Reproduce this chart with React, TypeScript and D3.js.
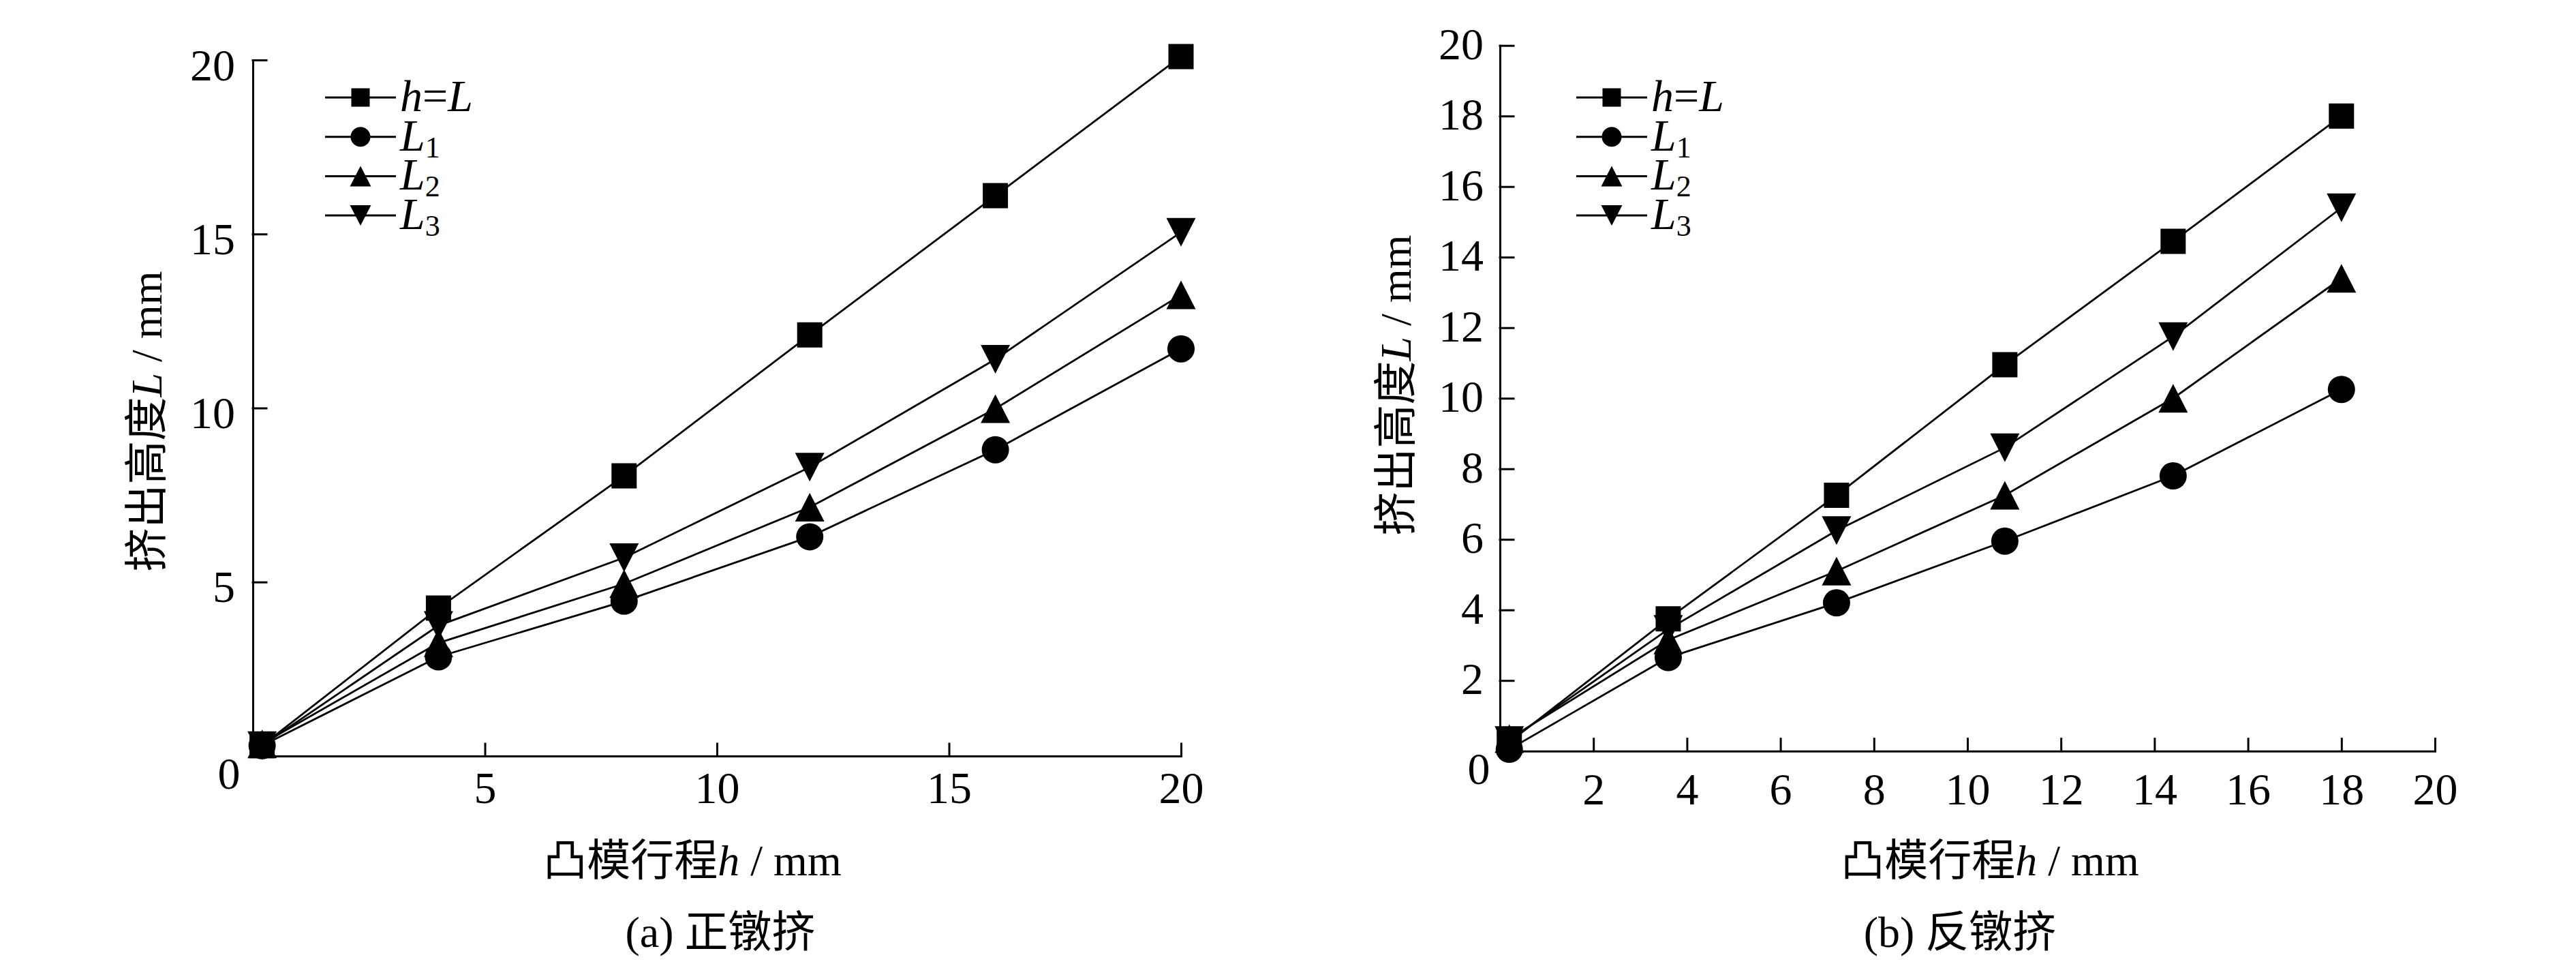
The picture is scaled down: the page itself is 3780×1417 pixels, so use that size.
import { useEffect, useRef } from "react";
import * as d3 from "d3";

const W = 3780;
const H = 1417;
const SERIF = "'Liberation Serif', 'Times New Roman', 'Noto Sans CJK SC', serif";

// ---------------------------------------------------------------------------
// Data — (a) 正镦挤
// ---------------------------------------------------------------------------
const strokeA = [0.2, 4, 8, 12, 16, 20];
const hEqLA = [0.3, 4.25, 8.05, 12.1, 16.1, 20.1];
const l1A = [0.3, 2.85, 4.45, 6.3, 8.8, 11.7];
const l2A = [0.35, 3.25, 4.95, 7.15, 9.98, 13.25];
const l3A = [0.3, 3.75, 5.7, 8.3, 11.4, 15.05];
const xTicksA = [5, 10, 15, 20];
const yTicksA = [5, 10, 15, 20];

// ---------------------------------------------------------------------------
// Data — (b) 反镦挤
// ---------------------------------------------------------------------------
const strokeB = [0.2, 3.6, 7.2, 10.8, 14.4, 18];
const hEqLB = [0.25, 3.75, 7.25, 10.95, 14.45, 18.0];
const l1B = [0.05, 2.65, 4.2, 5.95, 7.8, 10.25];
const l2B = [0.35, 3.15, 5.1, 7.25, 10.0, 13.4];
const l3B = [0.3, 3.45, 6.25, 8.6, 11.75, 15.4];
const xTicksB = [2, 4, 6, 8, 10, 12, 14, 16, 18, 20];
const yTicksB = [2, 4, 6, 8, 10, 12, 14, 16, 18, 20];

const seriesKeys = ["hL", "L1", "L2", "L3"];
const shapes = ["square", "circle", "up", "down"];

// ---------------------------------------------------------------------------
// Layout
// ---------------------------------------------------------------------------
const panels = [
  {
    xs: strokeA,
    series: [hEqLA, l1A, l2A, l3A],
    xRange: [371, 1733],
    yRange: [1109, 88],
    xTicks: xTicksA,
    yTicks: yTicksA,
    xLabelY: 69,
    yLabelX: -26,
    yLabelY: 29,
    zero: [336, 1157],
    yTitle: [237, 618],
    xTitle: [1016, 1284],
    caption: [1057, 1389],
    captionText: "(a) 正镦挤",
    legendX: 477,
  },
  {
    xs: strokeB,
    series: [hEqLB, l1B, l2B, l3B],
    xRange: [2201, 3573],
    yRange: [1101.7, 66.7],
    xTicks: xTicksB,
    yTicks: yTicksB,
    xLabelY: 78,
    yLabelX: -24,
    yLabelY: 19.5,
    zero: [2170, 1150],
    yTitle: [2070, 565],
    xTitle: [2920, 1284],
    caption: [2876, 1389],
    captionText: "(b) 反镦挤",
    legendX: 2313,
  },
];

function markerPath(kind: string, big: boolean) {
  const sq = big ? 37 : 27;
  const r = big ? 20 : 14.5;
  const tw = big ? 43 : 31;
  const th = big ? 42 : 30;
  switch (kind) {
    case "square":
      return `M${-sq / 2},${-sq / 2}h${sq}v${sq}h${-sq}Z`;
    case "circle":
      return `M${-r},0A${r},${r} 0 1 0 ${r},0A${r},${r} 0 1 0 ${-r},0Z`;
    case "up":
      return `M0,${-th / 2}L${tw / 2},${th / 2}L${-tw / 2},${th / 2}Z`;
    default:
      return `M0,${th / 2}L${tw / 2},${-th / 2}L${-tw / 2},${-th / 2}Z`;
  }
}

export default function App() {
  const svgRef = useRef<SVGSVGElement>(null);

  useEffect(() => {
    const svg = d3.select(svgRef.current);
    svg.selectAll("*").remove();
    svg.append("rect").attr("width", W).attr("height", H).attr("fill", "#fff");

    panels.forEach((p) => {
      const x = d3.scaleLinear().domain([0, 20]).range(p.xRange);
      const y = d3.scaleLinear().domain([0, 20]).range(p.yRange);
      const g = svg.append("g");

      // ---- axes ----
      const xAxis = g
        .append("g")
        .attr("transform", `translate(0,${y(0)})`)
        .call(
          d3
            .axisBottom(x)
            .tickValues(p.xTicks)
            .tickSize(-18)
            .tickSizeOuter(0)
            .tickFormat(d3.format("d"))
        );
      const yAxis = g
        .append("g")
        .attr("transform", `translate(${x(0)},0)`)
        .call(
          d3
            .axisLeft(y)
            .tickValues(p.yTicks)
            .tickSize(-20)
            .tickSizeOuter(0)
            .tickFormat(d3.format("d"))
        );

      [xAxis, yAxis].forEach((a) => {
        a.attr("font-family", SERIF).attr("font-size", 66);
        a.selectAll("path, line")
          .attr("stroke", "#000")
          .attr("stroke-width", 3)
          .attr("stroke-linecap", "square");
        a.selectAll("text").attr("fill", "#000").attr("dy", null);
      });
      xAxis.selectAll("text").attr("y", p.xLabelY);
      yAxis.selectAll("text").attr("x", p.yLabelX).attr("y", p.yLabelY);

      g.append("text")
        .attr("x", p.zero[0])
        .attr("y", p.zero[1])
        .attr("text-anchor", "middle")
        .attr("font-family", SERIF)
        .attr("font-size", 66)
        .text("0");

      // ---- series lines ----
      const line = d3
        .line<number>()
        .x((_d, i) => x(p.xs[i]))
        .y((d) => y(d));

      p.series.forEach((vals) => {
        g.append("path")
          .attr("d", line(vals))
          .attr("fill", "none")
          .attr("stroke", "#000")
          .attr("stroke-width", 2.8);
      });

      // ---- markers ----
      p.series.forEach((vals, si) => {
        g.selectAll(null)
          .data(vals)
          .join("path")
          .attr("transform", (d, i) => `translate(${x(p.xs[i])},${y(d)})`)
          .attr("d", markerPath(shapes[si], true))
          .attr("fill", "#000");
      });

      // ---- legend ----
      seriesKeys.forEach((key, i) => {
        const ry = 143 + i * 57.7;
        const row = g.append("g").attr("transform", `translate(${p.legendX},${ry})`);
        row.append("line")
          .attr("x1", 0)
          .attr("x2", 104)
          .attr("stroke", "#000")
          .attr("stroke-width", 3);
        row.append("path")
          .attr("transform", "translate(52,0)")
          .attr("d", markerPath(shapes[i], false))
          .attr("fill", "#000");
        const t = row
          .append("text")
          .attr("x", 110)
          .attr("y", 20)
          .attr("font-family", SERIF)
          .attr("font-size", 66);
        if (key === "hL") {
          t.append("tspan").attr("font-style", "italic").text("h");
          t.append("tspan").text("=");
          t.append("tspan").attr("font-style", "italic").text("L");
        } else {
          t.append("tspan").attr("font-style", "italic").text("L");
          t.append("tspan").attr("font-size", 44).attr("dy", 10).text(key.slice(1));
        }
      });

      // ---- titles ----
      const yt = g
        .append("text")
        .attr("transform", `translate(${p.yTitle[0]},${p.yTitle[1]}) rotate(-90)`)
        .attr("text-anchor", "middle")
        .attr("font-family", SERIF)
        .attr("font-size", 64);
      yt.append("tspan").text("挤出高度");
      yt.append("tspan").attr("font-style", "italic").text("L");
      yt.append("tspan").text(" / mm");

      const xt = g
        .append("text")
        .attr("x", p.xTitle[0])
        .attr("y", p.xTitle[1])
        .attr("text-anchor", "middle")
        .attr("font-family", SERIF)
        .attr("font-size", 64);
      xt.append("tspan").text("凸模行程");
      xt.append("tspan").attr("font-style", "italic").text("h");
      xt.append("tspan").text(" / mm");

      g.append("text")
        .attr("x", p.caption[0])
        .attr("y", p.caption[1])
        .attr("text-anchor", "middle")
        .attr("font-family", SERIF)
        .attr("font-size", 64)
        .text(p.captionText);
    });
  }, []);

  return (
    <svg
      ref={svgRef}
      width={W}
      height={H}
      style={{ position: "absolute", left: 0, top: 0, display: "block" }}
    />
  );
}
